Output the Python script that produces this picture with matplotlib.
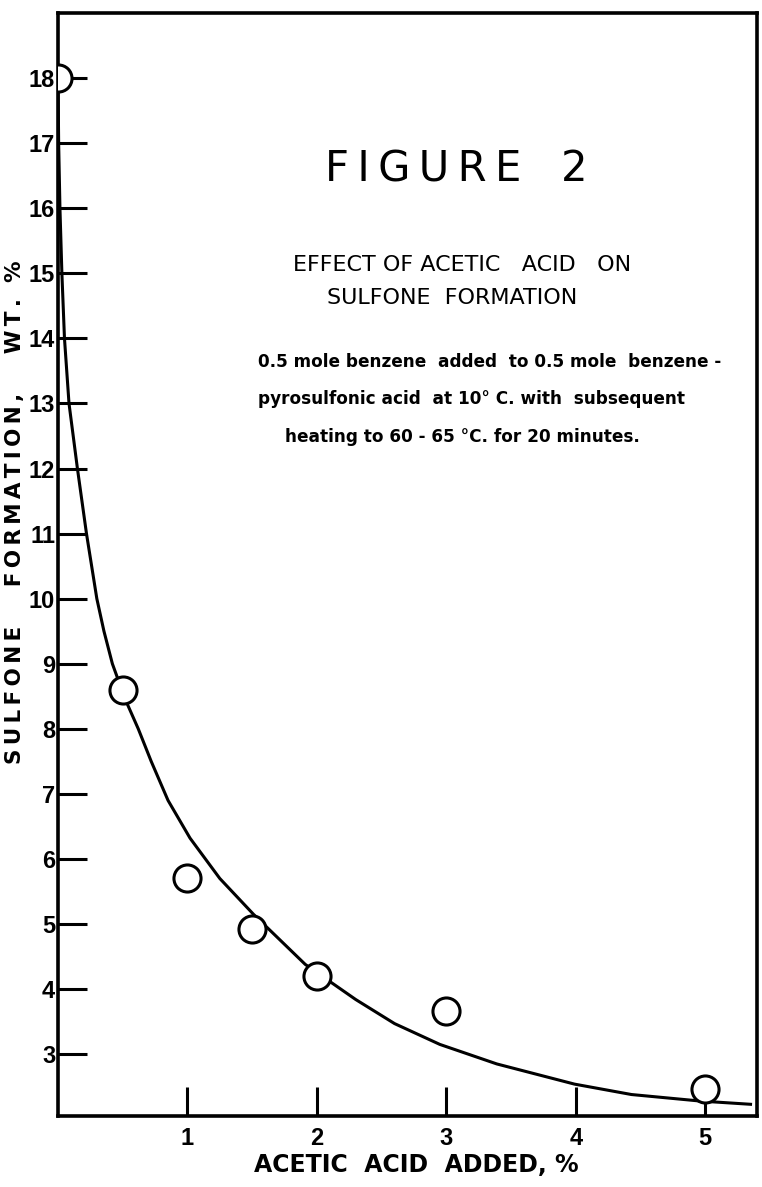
import numpy as np
import matplotlib.pyplot as plt

# measured points (acetic acid %, sulfone wt. %)
acid_pct = [0.0, 0.5, 1.0, 1.5, 2.0, 3.0, 5.0]
sulfone_pct = [18.0, 8.6, 5.7, 4.92, 4.2, 3.66, 2.46]

# hand-drawn fitted curve
curve_x = [0.0, 0.005, 0.015, 0.03, 0.05, 0.085, 0.15, 0.22, 0.30, 0.355,
           0.42, 0.52, 0.62, 0.72, 0.85, 1.02, 1.25, 1.51, 1.91, 2.30, 2.60,
           2.95, 3.39, 3.99, 4.43, 4.96, 5.35]
curve_y = [18.0, 17.0, 16.0, 15.0, 14.0, 13.0, 12.0, 11.0, 10.0, 9.5,
           9.0, 8.45, 8.0, 7.5, 6.9, 6.32, 5.7, 5.15, 4.38, 3.84, 3.47,
           3.15, 2.85, 2.54, 2.38, 2.28, 2.23]

x_ticks = [1, 2, 3, 4, 5]
y_ticks = list(range(3, 19))

W, H = 762, 1187
fig = plt.figure(figsize=(W / 100, H / 100), dpi=100)
ax = fig.add_axes([58 / W, 1 - 1116 / H, (757 - 58) / W, (1116 - 13) / H])

ax.plot(curve_x, curve_y, color='black', linewidth=2.2, zorder=2)
# clip to the axes patch so the point sitting on the left spine is cut in half
pts = ax.scatter(acid_pct, sulfone_pct, s=19.5 ** 2, facecolors='white',
                 edgecolors='black', linewidths=2.2, zorder=3)
pts.set_clip_path(ax.patch)

ax.set_xlim(0, 5.4)
ax.set_ylim(2.05, 19.0)
ax.set_xticks(x_ticks)
ax.set_yticks(y_ticks)
ax.set_xticklabels([str(t) for t in x_ticks], fontsize=17, fontweight='bold',
                   family='Liberation Sans')
ax.set_yticklabels([str(t) for t in y_ticks], fontsize=17, fontweight='bold',
                   family='Liberation Sans')
ax.tick_params(axis='x', direction='in', length=21, width=2.2, pad=8)
ax.tick_params(axis='y', direction='in', length=21, width=2.2, pad=2)
for s in ax.spines.values():
    s.set_linewidth(2.6)


def fx(px):
    return px / W


def fy(py):
    return 1 - py / H


def spaced(text, gap='\u2009'):
    # wide lettering like the stencil original
    return gap.join(text)


fig.text(fx(416), fy(1165), 'ACETIC  ACID  ADDED, %',
         ha='center', va='center', fontsize=17, fontweight='bold',
         family='DejaVu Sans')
fig.text(fx(15), fy(512), spaced('SULFONE   FORMATION,   WT. %'),
         ha='center', va='center', rotation=90, fontsize=15.5,
         fontweight='bold', family='DejaVu Sans')

fig.text(fx(456), fy(170), spaced('FIGURE') + '   2',
         ha='center', va='center', fontsize=30, family='DejaVu Sans')
fig.text(fx(462), fy(265), 'EFFECT OF ACETIC   ACID   ON', ha='center',
         va='center', fontsize=16, family='DejaVu Sans')
fig.text(fx(452), fy(298), 'SULFONE  FORMATION', ha='center', va='center',
         fontsize=16, family='DejaVu Sans')

para = ['0.5 mole benzene  added  to 0.5 mole  benzene -',
        'pyrosulfonic acid  at 10° C. with  subsequent',
        'heating to 60 - 65 °C. for 20 minutes.']
para_x = [258, 258, 285]
para_y = [362, 399, 437]
for line, px, py in zip(para, para_x, para_y):
    fig.text(fx(px), fy(py), line, ha='left', va='center', fontsize=12.2,
             fontweight='bold', family='DejaVu Sans')

fig.savefig('out.png', dpi=100)
